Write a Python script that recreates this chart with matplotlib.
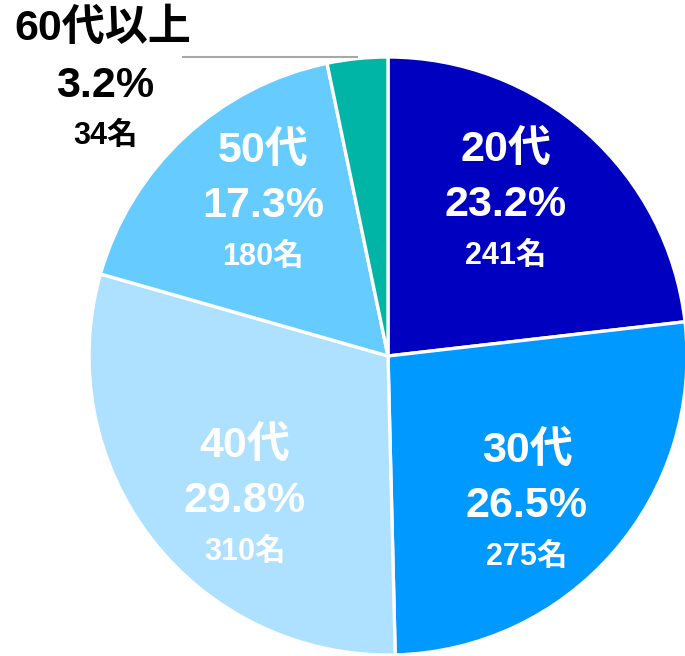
import numpy as np
import matplotlib
matplotlib.use("Agg")
import matplotlib.pyplot as plt

plt.rcParams['font.family'] = ['Liberation Sans', 'Noto Sans CJK JP', 'DejaVu Sans']
plt.rcParams['font.weight'] = 'bold'

# данные
labels = ['20代', '30代', '40代', '50代', '60代以上']
counts = [241, 275, 310, 180, 34]
percents = ['23.2%', '26.5%', '29.8%', '17.3%', '3.2%']
colors = ['#0000C0', '#0099FF', '#AEE0FF', '#66CCFF', '#00B5A5']

W, H = 685, 656
fig = plt.figure(figsize=(W / 100, H / 100), dpi=100)
ax = fig.add_axes([0, 0, 1, 1])

cx, cy, r = 388, H - 356, 299
wedges, _ = ax.pie(counts, colors=colors, startangle=90, counterclock=False,
                   center=(cx, cy), radius=r,
                   wedgeprops=dict(edgecolor='white', linewidth=2.4))
ax.set_xlim(0, W)
ax.set_ylim(0, H)
ax.set_aspect('equal')
ax.axis('off')

big, small = 31, 22

# позиции подписей внутри (в пикселях от верхнего левого угла)
inside = {0: (506, 150), 1: (527, 451), 2: (245, 446), 3: (263, 151)}
for i, (px, py) in inside.items():
    ax.text(px, H - py, labels[i], color='white', fontsize=big, ha='center', va='center')
    ax.text(px, H - py - 55, percents[i], color='white', fontsize=big, ha='center', va='center')
    ax.text(px, H - py - 106, f'{counts[i]}名', color='white', fontsize=small, ha='center', va='center')

# 60代以上 - снаружи, с выноской
w = wedges[4]
mid = np.deg2rad((w.theta1 + w.theta2) / 2)
ex, ey = cx + r * np.cos(mid), cy + r * np.sin(mid)
ax.plot([183, ex], [ey + 2, ey + 2], color='#a8a8a8', lw=1.5)
ax.text(103, H - 29, labels[4], color='black', fontsize=big, ha='center', va='center')
ax.text(105, H - 86, percents[4], color='black', fontsize=big, ha='center', va='center')
ax.text(106, H - 136, f'{counts[4]}名', color='black', fontsize=small, ha='center', va='center')

fig.savefig('out.png', dpi=100)
